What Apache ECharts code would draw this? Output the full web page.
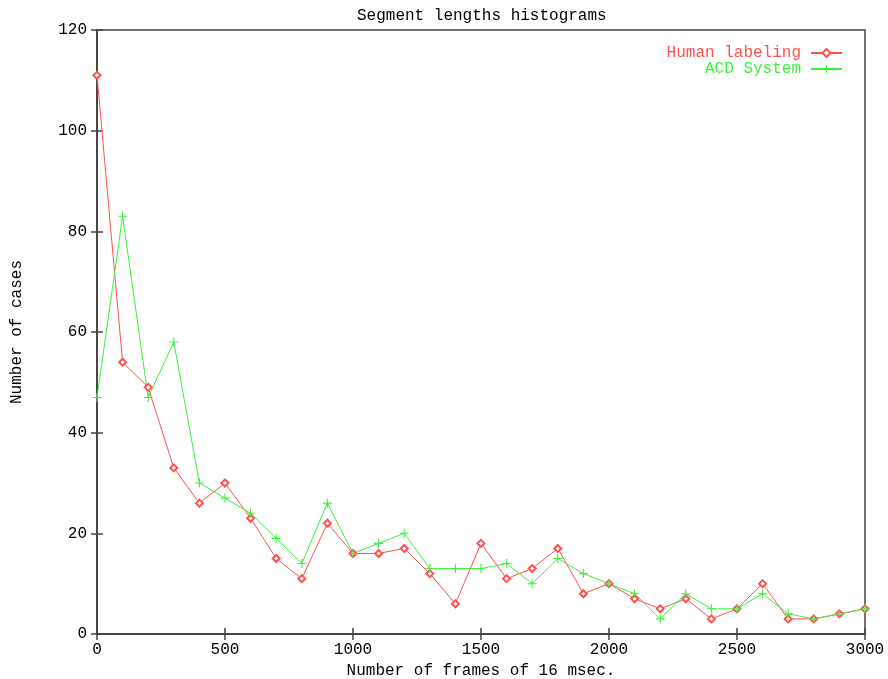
<!DOCTYPE html>
<html>
<head>
<meta charset="utf-8">
<script src="https://cdn.jsdelivr.net/npm/echarts@6/dist/echarts.min.js"></script>
<style>html,body{margin:0;padding:0;background:#fff;}#c{width:888px;height:679px;}</style>
</head>
<body>
<div id="c"></div>
<script>
const frames = [0,100,200,300,400,500,600,700,800,900,1000,1100,1200,1300,1400,1500,1600,1700,1800,1900,2000,2100,2200,2300,2400,2500,2600,2700,2800,2900,3000];
const humanLabeling = [111,54,49,33,26,30,23,15,11,22,16,16,17,12,6,18,11,13,17,8,10,7,5,7,3,5,10,3,3,4,5];
const acdSystem = [47,83,47,58,30,27,24,19,14,26,16,18,20,13,13,13,14,10,15,12,10,8,3,8,5,5,8,4,3,4,5];
const seriesNames = ['Human labeling','ACD System'];
const titleText = 'Segment lengths histograms';
const xName = 'Number of frames of 16 msec.';
const yName = 'Number of cases';

const FONT = '"Liberation Mono", "DejaVu Sans Mono", monospace';
const RED = '#ff5050';
const GREEN = '#3cf03c';
const plusPath = 'path://M-0.12,-1L0.12,-1L0.12,-0.12L1,-0.12L1,0.12L0.12,0.12L0.12,1L-0.12,1L-0.12,0.12L-1,0.12L-1,-0.12L-0.12,-0.12Z';

const pair = (xs, ys) => xs.map((x, i) => [x, ys[i]]);
const plain = v => String(v);

const axisCommon = {
  axisLine: {show: true, lineStyle: {color: '#444', width: 1.5}},
  axisTick: {show: true, inside: true, length: 6, lineStyle: {color: '#444', width: 1.5}},
  splitLine: {show: false}
};

const chart = echarts.init(document.getElementById('c'), null, {renderer: 'canvas'});
chart.setOption({
  animation: false,
  backgroundColor: '#fff',
  title: {
    text: titleText, left: 352, top: 3,
    textStyle: {fontFamily: FONT, fontSize: 16, fontWeight: 'normal', color: '#000'}
  },
  legend: [
    {data: [seriesNames[0]], right: 40, top: 40, align: 'right', itemWidth: 31, itemHeight: 10,
     textStyle: {fontFamily: FONT, fontSize: 16, color: RED, padding: [0, 5, 0, 0]}},
    {data: [seriesNames[1]], right: 40, top: 56, align: 'right', itemWidth: 31, itemHeight: 10,
     textStyle: {fontFamily: FONT, fontSize: 16, color: GREEN, padding: [0, 5, 0, 0]}}
  ],
  grid: {left: 97, right: 23, top: 30, bottom: 45, outerBoundsMode: 'none', containLabel: false,
         show: true, borderColor: '#444', borderWidth: 1.5},
  xAxis: [
    Object.assign({type: 'value', min: 0, max: 3000, interval: 500, position: 'bottom',
      name: xName, nameLocation: 'middle', nameGap: 21,
      nameTextStyle: {fontFamily: FONT, fontSize: 16, color: '#000'},
      axisLabel: {fontFamily: FONT, fontSize: 16, color: '#000', margin: 8, formatter: plain}}, axisCommon),
    Object.assign({type: 'value', min: 0, max: 3000, interval: 500, position: 'top',
      axisLabel: {show: false}}, axisCommon)
  ],
  yAxis: [
    Object.assign({type: 'value', min: 0, max: 120, interval: 20, position: 'left',
      name: yName, nameLocation: 'middle', nameGap: 72, nameRotate: 90,
      nameTextStyle: {fontFamily: FONT, fontSize: 16, color: '#000'},
      axisLabel: {fontFamily: FONT, fontSize: 16, color: '#000', margin: 10, formatter: plain}}, axisCommon),
    Object.assign({type: 'value', min: 0, max: 120, interval: 20, position: 'right',
      axisLabel: {show: false}}, axisCommon)
  ],
  series: [
    {name: seriesNames[0], type: 'line', data: pair(frames, humanLabeling),
     xAxisIndex: 0, yAxisIndex: 0,
     symbol: 'emptyDiamond', symbolSize: 7, showAllSymbol: true,
     lineStyle: {color: RED, width: 1}, itemStyle: {color: RED, borderWidth: 1}},
    {name: seriesNames[1], type: 'line', data: pair(frames, acdSystem),
     xAxisIndex: 0, yAxisIndex: 0,
     symbol: plusPath, symbolSize: 9, showAllSymbol: true,
     lineStyle: {color: GREEN, width: 1}, itemStyle: {color: GREEN}}
  ]
});
</script>
</body>
</html>
